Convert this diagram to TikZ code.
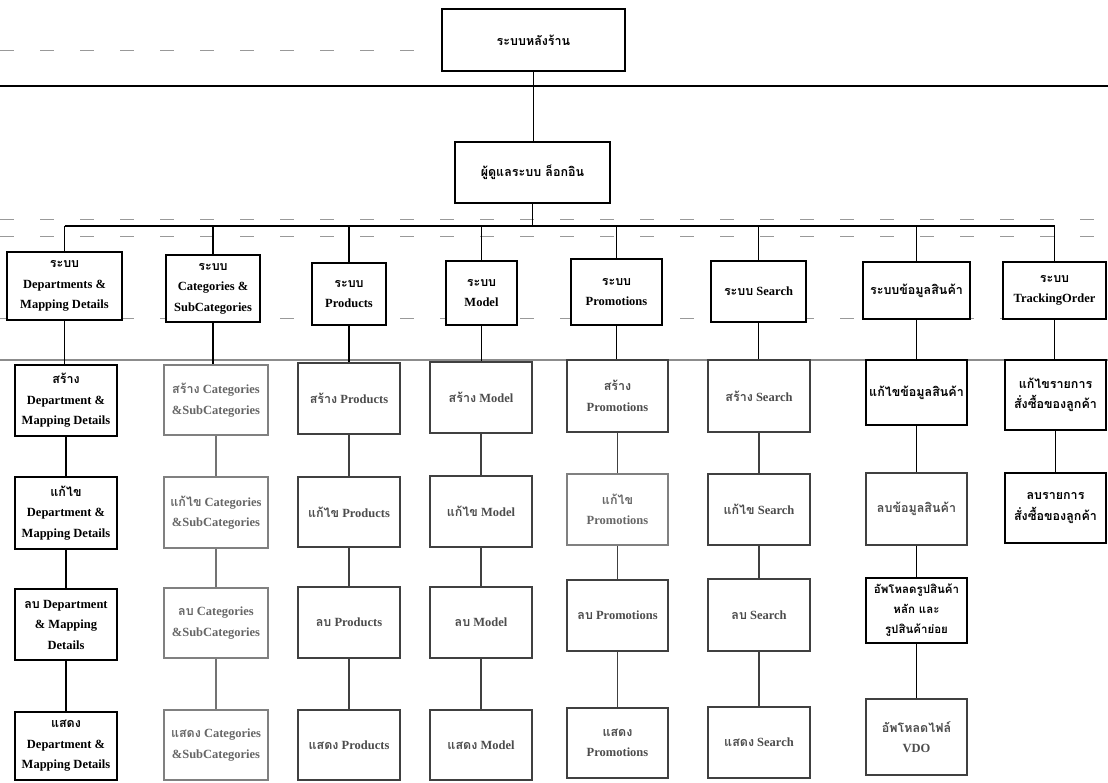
\documentclass[tikz,border=0pt]{standalone}
\usepackage{fontspec}
\setmainfont{Liberation Serif}
\newfontfamily\thaifont[Script=Thai]{Loma}
\newcommand\tht[1]{{\thaifont #1}}
\newcommand\bx[7][]{\node[box,#1,minimum width={(#5-#3)*1pt},minimum height={(#6-#4)*1pt}] (#2) at ({(#3+#5)/2},{(#4+#6)/2}) {#7};}
\tikzset{
  box/.style={draw=black,fill=white,line width=1.3pt,align=center,inner sep=0pt,
    font=\bfseries\fontsize{12.5}{20.5}\selectfont},
  small/.style={font=\bfseries\fontsize{11.5}{20}\selectfont},
  gbox/.style={draw=black!50,text=black!60,line width=1.1pt},
  dbox/.style={draw=black!75,text=black!70,line width=1.1pt},
  link/.style={line width=1.3pt,black},
  glink/.style={line width=1.1pt,black!55},
  dlink/.style={line width=1.1pt,black!75},
  artifact/.style={line width=0.8pt,black!40,dash pattern=on 14pt off 26pt}
}
\begin{document}
\begin{tikzpicture}[x=1pt,y=-1pt]
\useasboundingbox (0,0) rectangle (1108,782);
% scan lines
\coordinate (hA) at (0,86); \coordinate (hB) at (1108,86);
\coordinate (gA) at (0,360); \coordinate (gB) at (1108,360);
\coordinate (dA) at (0,50); \coordinate (dB) at (440,50);
\coordinate (eA) at (0,219); \coordinate (eB) at (1108,219);
\coordinate (fA) at (0,236); \coordinate (fB) at (1108,236);
\coordinate (kA) at (0,318); \coordinate (kB) at (1108,318);
\draw[line width=1.4pt] (hA) -- (hB);
\draw[line width=1.8pt,black!45] (gA) -- (gB);
\draw[artifact] (dA) -- (dB);
\draw[artifact] (eA) -- (eB);
\draw[artifact] (fA) -- (fB);
\draw[artifact] (kA) -- (kB);

% top
\bx{root}{442}{9}{625}{71}{\tht{ระบบหลังร้าน}}
\bx{admin}{455}{142}{610}{203}{\tht{ผู้ดูแลระบบ ล็อกอิน}}

% level 3
\bx{c1}{7}{252}{122}{320}{\tht{ระบบ}\\Departments \&\\Mapping Details}
\bx{c2}{166}{255}{260}{322}{\tht{ระบบ}\\Categories \&\\SubCategories}
\bx{c3}{312}{263}{386}{325}{\tht{ระบบ}\\Products}
\bx{c4}{446}{261}{517}{325}{\tht{ระบบ}\\Model}
\bx{c5}{571}{259}{662}{325}{\tht{ระบบ}\\Promotions}
\bx{c6}{711}{261}{806}{322}{\tht{ระบบ} Search}
\bx{c7}{863}{262}{970}{319}{\tht{ระบบข้อมูลสินค้า}}
\bx{c8}{1003}{262}{1106}{319}{\tht{ระบบ}\\TrackingOrder}

% column 1
\bx{a1}{15}{365}{117}{436}{\tht{สร้าง}\\Department \&\\Mapping Details}
\bx{a2}{15}{477}{117}{549}{\tht{แก้ไข}\\Department \&\\Mapping Details}
\bx{a3}{15}{589}{117}{660}{\tht{ลบ} Department\\\& Mapping\\Details}
\bx{a4}{15}{712}{117}{780}{\tht{แสดง}\\Department \&\\Mapping Details}
% column 2
\bx[gbox]{b1}{164}{365}{268}{435}{\tht{สร้าง} Categories\\\&SubCategories}
\bx[gbox]{b2}{164}{477}{268}{548}{\tht{แก้ไข} Categories\\\&SubCategories}
\bx[gbox]{b3}{164}{588}{268}{658}{\tht{ลบ} Categories\\\&SubCategories}
\bx[gbox]{b4}{164}{710}{268}{780}{\tht{แสดง} Categories\\\&SubCategories}
% column 3
\bx[dbox]{p1}{298}{363}{400}{434}{\tht{สร้าง} Products}
\bx[dbox]{p2}{298}{477}{400}{547}{\tht{แก้ไข} Products}
\bx[dbox]{p3}{298}{587}{400}{658}{\tht{ลบ} Products}
\bx[dbox]{p4}{298}{710}{400}{780}{\tht{แสดง} Products}
% column 4
\bx[dbox]{m1}{430}{362}{532}{433}{\tht{สร้าง} Model}
\bx[dbox]{m2}{430}{476}{532}{547}{\tht{แก้ไข} Model}
\bx[dbox]{m3}{430}{587}{532}{658}{\tht{ลบ} Model}
\bx[dbox]{m4}{430}{710}{532}{780}{\tht{แสดง} Model}
% column 5
\bx[dbox]{r1}{567}{360}{668}{432}{\tht{สร้าง}\\Promotions}
\bx[gbox]{r2}{567}{474}{668}{545}{\tht{แก้ไข}\\Promotions}
\bx[dbox]{r3}{567}{580}{668}{651}{\tht{ลบ} Promotions}
\bx[dbox]{r4}{567}{708}{668}{778}{\tht{แสดง}\\Promotions}
% column 6
\bx[dbox]{s1}{708}{360}{810}{432}{\tht{สร้าง} Search}
\bx[dbox]{s2}{708}{474}{810}{545}{\tht{แก้ไข} Search}
\bx[dbox]{s3}{708}{579}{810}{651}{\tht{ลบ} Search}
\bx[dbox]{s4}{708}{707}{810}{778}{\tht{แสดง} Search}
% column 7
\bx{i1}{866}{360}{967}{425}{\tht{แก้ไขข้อมูลสินค้า}}
\bx[dbox]{i2}{866}{473}{967}{545}{\tht{ลบข้อมูลสินค้า}}
\bx[small]{i3}{866}{578}{967}{643}{\tht{อัพโหลดรูปสินค้า}\\\tht{หลัก และ}\\\tht{รูปสินค้าย่อย}}
\bx[dbox]{i4}{866}{699}{967}{775}{\tht{อัพโหลดไฟล์}\\VDO}
% column 8
\bx{t1}{1005}{360}{1106}{430}{\tht{แก้ไขรายการ}\\\tht{สั่งซื้อของลูกค้า}}
\bx{t2}{1005}{473}{1106}{543}{\tht{ลบรายการ}\\\tht{สั่งซื้อของลูกค้า}}

% connectors top
\coordinate (bus) at (533,226);
\draw[link] (root.south) -- (root.south |- admin.north);
\draw[link] (admin.south) -- (admin.south |- bus);
\draw[link] (c1.north |- bus) -- (c8.north |- bus);
\foreach \c in {c1,c2,c3,c4,c5,c6,c7,c8}
  \draw[link] (\c.north) -- (\c.north |- bus);

% level 3 to leaves
\draw[link] (c1.south) -- (c1.south |- a1.north);
\draw[link] (c2.south) -- (c2.south |- b1.north);
\draw[link] (c3.south) -- (c3.south |- p1.north);
\draw[link] (c4.south) -- (c4.south |- m1.north);
\draw[link] (c5.south) -- (c5.south |- r1.north);
\draw[link] (c6.south) -- (c6.south |- s1.north);
\draw[link] (c7.south) -- (c7.south |- i1.north);
\draw[link] (c8.south) -- (c8.south |- t1.north);

% chains
\draw[link] (a1.south) -- (a2.north);
\draw[link] (a2.south) -- (a3.north);
\draw[link] (a3.south) -- (a4.north);
\draw[glink] (b1.south) -- (b2.north);
\draw[glink] (b2.south) -- (b3.north);
\draw[glink] (b3.south) -- (b4.north);
\draw[dlink] (p1.south) -- (p2.north);
\draw[dlink] (p2.south) -- (p3.north);
\draw[dlink] (p3.south) -- (p4.north);
\draw[dlink] (m1.south) -- (m2.north);
\draw[dlink] (m2.south) -- (m3.north);
\draw[dlink] (m3.south) -- (m4.north);
\draw[dlink] (r1.south) -- (r2.north);
\draw[dlink] (r2.south) -- (r3.north);
\draw[dlink] (r3.south) -- (r4.north);
\draw[dlink] (s1.south) -- (s2.north);
\draw[dlink] (s2.south) -- (s3.north);
\draw[dlink] (s3.south) -- (s4.north);
\draw[link] (i1.south) -- (i2.north);
\draw[link] (i2.south) -- (i3.north);
\draw[link] (i3.south) -- (i4.north);
\draw[link] (t1.south) -- (t2.north);
\end{tikzpicture}
\end{document}
